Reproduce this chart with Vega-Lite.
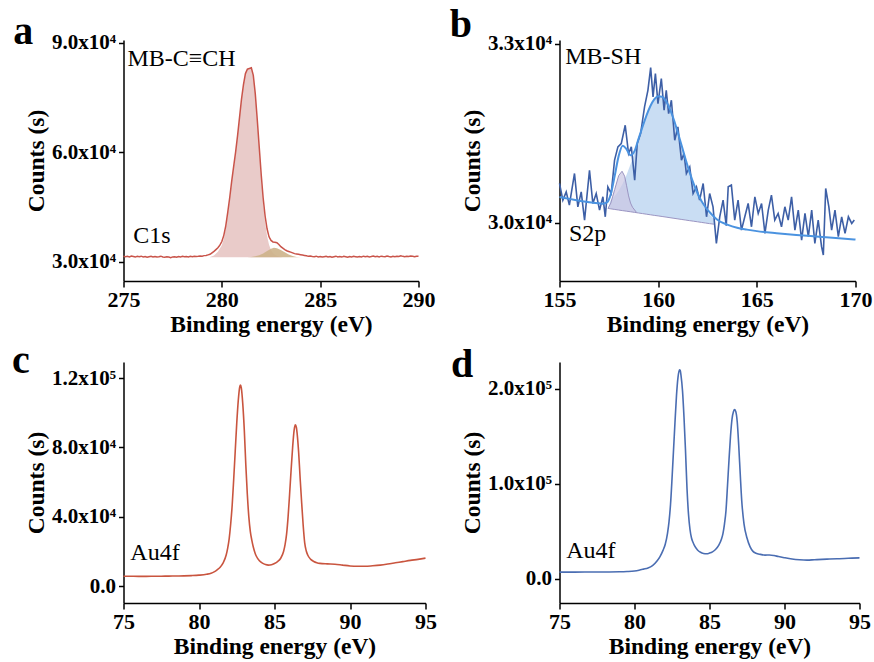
{
"$schema": "https://vega.github.io/schema/vega-lite/v6.json",
"background": "white",
"padding": {"left": 11.5, "top": 5, "right": 3, "bottom": 5},
"config": {
 "font": "Liberation Serif",
 "view": {"stroke": null},
 "axis": {"grid": false, "domainColor": "black", "domainWidth": 1.5, "tickColor": "black", "tickWidth": 1.5, "labelFont": "Liberation Serif", "labelFontWeight": "bold", "labelColor": "black", "titleFont": "Liberation Serif", "titleFontWeight": "bold", "titleColor": "black", "titleFontSize": 23.5},
 "axisX": {"labelFontSize": 22, "labelPadding": 2, "titlePadding": 2, "tickSize": 6, "labelFlush": false},
 "axisY": {"labelFontSize": 21, "labelPadding": 3, "titlePadding": 3, "tickSize": 5}
},
"datasets": {
 "a_line": [
  {"x":275.0,"y":31500},{"x":275.1,"y":31350},{"x":275.2,"y":31450},{"x":275.3,"y":31300},{"x":275.4,"y":31550},{"x":275.5,"y":31400},{"x":275.6,"y":31250},{"x":275.7,"y":31450},{"x":275.8,"y":31350},{"x":275.9,"y":31500},
  {"x":276.0,"y":31300},{"x":276.1,"y":31400},{"x":276.2,"y":31200},{"x":276.3,"y":31350},{"x":276.4,"y":31450},{"x":276.5,"y":31300},{"x":276.6,"y":31400},{"x":276.7,"y":31250},{"x":276.8,"y":31350},{"x":276.9,"y":31500},
  {"x":277.0,"y":31300},{"x":277.1,"y":31200},{"x":277.2,"y":31350},{"x":277.3,"y":31250},{"x":277.4,"y":31100},{"x":277.5,"y":31300},{"x":277.6,"y":31350},{"x":277.7,"y":31200},{"x":277.8,"y":31400},{"x":277.9,"y":31300},
  {"x":278.0,"y":31450},{"x":278.1,"y":31350},{"x":278.2,"y":31400},{"x":278.3,"y":31300},{"x":278.4,"y":31450},{"x":278.5,"y":31350},{"x":278.6,"y":31500},{"x":278.7,"y":31400},{"x":278.8,"y":31450},{"x":278.9,"y":31550},
  {"x":279.0,"y":31500},{"x":279.1,"y":31650},{"x":279.2,"y":31700},{"x":279.3,"y":31850},{"x":279.4,"y":32000},{"x":279.5,"y":32400},{"x":279.6,"y":32800},{"x":279.7,"y":33300},{"x":279.8,"y":33800},{"x":279.9,"y":34500},
  {"x":280.0,"y":35500},{"x":280.1,"y":37200},{"x":280.2,"y":39800},{"x":280.3,"y":43500},{"x":280.4,"y":47500},{"x":280.5,"y":52000},{"x":280.6,"y":56000},{"x":280.7,"y":60000},{"x":280.8,"y":64500},{"x":280.9,"y":69500},
  {"x":281.0,"y":74500},{"x":281.1,"y":78500},{"x":281.2,"y":81500},{"x":281.3,"y":82700},{"x":281.4,"y":82900},{"x":281.5,"y":83100},{"x":281.6,"y":81000},{"x":281.7,"y":76000},{"x":281.8,"y":69000},{"x":281.9,"y":61500},
  {"x":282.0,"y":54000},{"x":282.1,"y":47500},{"x":282.2,"y":42500},{"x":282.3,"y":39000},{"x":282.4,"y":36800},{"x":282.5,"y":35800},{"x":282.6,"y":35400},{"x":282.7,"y":35300},{"x":282.8,"y":35200},{"x":282.9,"y":34700},
  {"x":283.0,"y":34100},{"x":283.1,"y":33700},{"x":283.2,"y":33300},{"x":283.3,"y":33000},{"x":283.4,"y":32800},{"x":283.5,"y":32600},{"x":283.6,"y":32400},{"x":283.7,"y":32200},{"x":283.8,"y":32100},{"x":283.9,"y":32000},
  {"x":284.0,"y":31900},{"x":284.1,"y":31800},{"x":284.2,"y":31700},{"x":284.3,"y":31600},{"x":284.4,"y":31450},{"x":284.5,"y":31550},{"x":284.6,"y":31400},{"x":284.7,"y":31350},{"x":284.8,"y":31500},{"x":284.9,"y":31300},
  {"x":285.0,"y":31400},{"x":285.1,"y":31250},{"x":285.2,"y":31350},{"x":285.3,"y":31450},{"x":285.4,"y":31300},{"x":285.5,"y":31400},{"x":285.6,"y":31200},{"x":285.7,"y":31350},{"x":285.8,"y":31500},{"x":285.9,"y":31300},
  {"x":286.0,"y":31400},{"x":286.1,"y":31250},{"x":286.2,"y":31450},{"x":286.3,"y":31350},{"x":286.4,"y":31200},{"x":286.5,"y":31400},{"x":286.6,"y":31300},{"x":286.7,"y":31450},{"x":286.8,"y":31350},{"x":286.9,"y":31250},
  {"x":287.0,"y":31400},{"x":287.1,"y":31300},{"x":287.2,"y":31500},{"x":287.3,"y":31350},{"x":287.4,"y":31450},{"x":287.5,"y":31300},{"x":287.6,"y":31400},{"x":287.7,"y":31550},{"x":287.8,"y":31350},{"x":287.9,"y":31450},
  {"x":288.0,"y":31300},{"x":288.1,"y":31500},{"x":288.2,"y":31400},{"x":288.3,"y":31350},{"x":288.4,"y":31550},{"x":288.5,"y":31400},{"x":288.6,"y":31300},{"x":288.7,"y":31450},{"x":288.8,"y":31350},{"x":288.9,"y":31500},
  {"x":289.0,"y":31400},{"x":289.1,"y":31600},{"x":289.2,"y":31450},{"x":289.3,"y":31350},{"x":289.4,"y":31500},{"x":289.5,"y":31400},{"x":289.6,"y":31550},{"x":289.7,"y":31450},{"x":289.8,"y":31350},{"x":289.9,"y":31500},
  {"x":290.0,"y":31450}
 ],
 "a_c1": [
  {"x":279.4,"y":31250},{"x":279.6,"y":31700},{"x":279.8,"y":32700},{"x":280.0,"y":34500},{"x":280.1,"y":36200},{"x":280.2,"y":39000},{"x":280.3,"y":42800},{"x":280.4,"y":47000},{"x":280.5,"y":51500},{"x":280.6,"y":55600},
  {"x":280.7,"y":59600},{"x":280.8,"y":64200},{"x":280.9,"y":69200},{"x":281.0,"y":74200},{"x":281.1,"y":78200},{"x":281.2,"y":81200},{"x":281.3,"y":82500},{"x":281.4,"y":82700},{"x":281.5,"y":82800},{"x":281.6,"y":80700},
  {"x":281.7,"y":75700},{"x":281.8,"y":68500},{"x":281.9,"y":60800},{"x":282.0,"y":53000},{"x":282.1,"y":46200},{"x":282.2,"y":40800},{"x":282.3,"y":37000},{"x":282.4,"y":34600},{"x":282.5,"y":33200},{"x":282.6,"y":32400},
  {"x":282.7,"y":31900},{"x":282.8,"y":31600},{"x":282.9,"y":31400},{"x":283.0,"y":31250},{"x":283.1,"y":31200}
 ],
 "a_c2": [
  {"x":281.3,"y":31200},{"x":281.5,"y":31280},{"x":281.7,"y":31450},{"x":281.9,"y":31780},{"x":282.1,"y":32250},{"x":282.3,"y":32900},{"x":282.5,"y":33500},{"x":282.65,"y":33800},{"x":282.8,"y":33650},{"x":283.0,"y":33200},
  {"x":283.2,"y":32550},{"x":283.4,"y":31950},{"x":283.6,"y":31550},{"x":283.8,"y":31300},{"x":284.0,"y":31200}
 ],
 "b_raw": [
  {"x":155.0,"y":30658},{"x":155.17,"y":30379},{"x":155.34,"y":30518},{"x":155.5,"y":30295},{"x":155.76,"y":30825},{"x":155.93,"y":30267},{"x":156.1,"y":30518},{"x":156.27,"y":30045},{"x":156.52,"y":30880},{"x":156.69,"y":30323},
  {"x":156.86,"y":30490},{"x":157.03,"y":30212},{"x":157.2,"y":30435},{"x":157.32,"y":30100},{"x":157.45,"y":30602},{"x":157.62,"y":30490},{"x":157.79,"y":31048},{"x":157.96,"y":31270},{"x":158.13,"y":31326},{"x":158.33,"y":31633},
  {"x":158.5,"y":31159},{"x":158.64,"y":31270},{"x":158.81,"y":30713},{"x":158.94,"y":31326},{"x":159.11,"y":31494},{"x":159.31,"y":31939},{"x":159.48,"y":32218},{"x":159.62,"y":32597},{"x":159.74,"y":32107},{"x":159.86,"y":32497},
  {"x":159.99,"y":31995},{"x":160.16,"y":32413},{"x":160.3,"y":31884},{"x":160.41,"y":32218},{"x":160.53,"y":31828},{"x":160.67,"y":32051},{"x":160.84,"y":31382},{"x":161.0,"y":31605},{"x":161.18,"y":31048},{"x":161.31,"y":31159},
  {"x":161.43,"y":30825},{"x":161.6,"y":30936},{"x":161.77,"y":30490},{"x":161.94,"y":30602},{"x":162.1,"y":30379},{"x":162.28,"y":30658},{"x":162.45,"y":30100},{"x":162.61,"y":30490},{"x":162.78,"y":30267},{"x":162.95,"y":29654},
  {"x":163.12,"y":30100},{"x":163.29,"y":30379},{"x":163.45,"y":29950},{"x":163.55,"y":30602},{"x":163.71,"y":30630},{"x":163.88,"y":30045},{"x":164.05,"y":30379},{"x":164.22,"y":29877},{"x":164.39,"y":30100},{"x":164.56,"y":30323},
  {"x":164.73,"y":29933},{"x":164.9,"y":30435},{"x":165.07,"y":30156},{"x":165.24,"y":30323},{"x":165.41,"y":29822},{"x":165.58,"y":30212},{"x":165.74,"y":30463},{"x":165.91,"y":30045},{"x":166.08,"y":30156},{"x":166.25,"y":29933},
  {"x":166.42,"y":30267},{"x":166.59,"y":30045},{"x":166.76,"y":30435},{"x":166.93,"y":29877},{"x":167.1,"y":30212},{"x":167.27,"y":29710},{"x":167.44,"y":30156},{"x":167.61,"y":29766},{"x":167.78,"y":30212},{"x":167.94,"y":29654},
  {"x":168.11,"y":30045},{"x":168.28,"y":29599},{"x":168.37,"y":29459},{"x":168.49,"y":30574},{"x":168.65,"y":30267},{"x":168.79,"y":29877},{"x":168.96,"y":30212},{"x":169.13,"y":29766},{"x":169.3,"y":30100},{"x":169.47,"y":29822},
  {"x":169.64,"y":30100},{"x":169.81,"y":29989},{"x":169.94,"y":30045}
 ],
 "b_fit": [
  {"x":155.0,"y":30430},{"x":155.5,"y":30400},{"x":156.0,"y":30370},{"x":156.5,"y":30345},{"x":157.0,"y":30325},{"x":157.2,"y":30320},{"x":157.4,"y":30340},{"x":157.6,"y":30480},{"x":157.8,"y":30790},{"x":158.0,"y":31120},
  {"x":158.2,"y":31290},{"x":158.4,"y":31230},{"x":158.6,"y":31130},{"x":158.8,"y":31200},{"x":159.0,"y":31400},{"x":159.2,"y":31600},{"x":159.4,"y":31790},{"x":159.6,"y":31950},{"x":159.8,"y":32065},{"x":160.0,"y":32120},
  {"x":160.2,"y":32110},{"x":160.4,"y":32035},{"x":160.6,"y":31900},{"x":160.8,"y":31720},{"x":161.0,"y":31505},{"x":161.2,"y":31280},{"x":161.4,"y":31050},{"x":161.6,"y":30840},{"x":161.8,"y":30650},{"x":162.0,"y":30490},
  {"x":162.2,"y":30360},{"x":162.4,"y":30260},{"x":162.6,"y":30180},{"x":162.8,"y":30110},{"x":163.0,"y":30050},{"x":163.5,"y":29970},{"x":164.0,"y":29915},{"x":164.5,"y":29885},{"x":165.0,"y":29860},{"x":166.0,"y":29825},
  {"x":167.0,"y":29795},{"x":168.0,"y":29770},{"x":169.0,"y":29745},{"x":170.0,"y":29720}
 ],
 "b_s1": [
  {"x":157.46,"y":30240,"base":30240},{"x":157.6,"y":30330,"base":30233},{"x":157.8,"y":30560,"base":30223},{"x":158.0,"y":30790,"base":30213},{"x":158.17,"y":30863,"base":30205},{"x":158.3,"y":30780,"base":30199},
  {"x":158.4,"y":30620,"base":30194},{"x":158.5,"y":30450,"base":30189},{"x":158.6,"y":30330,"base":30184},{"x":158.7,"y":30260,"base":30179},{"x":158.9,"y":30175,"base":30169}
 ],
 "b_s2": [
  {"x":157.46,"y":30240,"base":30240},{"x":157.6,"y":30385,"base":30233},{"x":157.8,"y":30449,"base":30223},{"x":158.0,"y":30538,"base":30213},{"x":158.2,"y":30655,"base":30203},{"x":158.4,"y":30803,"base":30194},
  {"x":158.6,"y":30978,"base":30184},{"x":158.8,"y":31174,"base":30174},{"x":159.0,"y":31384,"base":30164},{"x":159.2,"y":31591,"base":30154},{"x":159.4,"y":31787,"base":30144},{"x":159.6,"y":31947,"base":30134},
  {"x":159.8,"y":32060,"base":30124},{"x":160.0,"y":32117,"base":30115},{"x":160.2,"y":32107,"base":30105},{"x":160.4,"y":32031,"base":30095},{"x":160.6,"y":31898,"base":30085},{"x":160.8,"y":31718,"base":30075},
  {"x":161.0,"y":31502,"base":30065},{"x":161.2,"y":31275,"base":30055},{"x":161.4,"y":31045,"base":30045},{"x":161.6,"y":30829,"base":30035},{"x":161.8,"y":30635,"base":30026},{"x":162.0,"y":30468,"base":30016},
  {"x":162.2,"y":30331,"base":30006},{"x":162.4,"y":30222,"base":29996},{"x":162.6,"y":30138,"base":29986},{"x":162.8,"y":30076,"base":29977},{"x":162.87,"y":29973,"base":29973}
 ],
 "c_line": [
  {"x":75.0,"y":5800},{"x":75.5,"y":5750},{"x":76.0,"y":5700},{"x":76.5,"y":5700},{"x":77.0,"y":5750},{"x":77.5,"y":5800},{"x":78.0,"y":5850},{"x":78.5,"y":5900},{"x":79.0,"y":6000},{"x":79.5,"y":6150},
  {"x":80.0,"y":6400},{"x":80.5,"y":6900},{"x":80.8,"y":7500},{"x":81.0,"y":8300},{"x":81.2,"y":9500},{"x":81.4,"y":11000},{"x":81.6,"y":13500},{"x":81.8,"y":18000},{"x":81.9,"y":22000},{"x":82.0,"y":27500},
  {"x":82.1,"y":36000},{"x":82.2,"y":47000},{"x":82.3,"y":62000},{"x":82.4,"y":78000},{"x":82.5,"y":94000},{"x":82.6,"y":107000},{"x":82.7,"y":115000},{"x":82.75,"y":116000},{"x":82.8,"y":114500},{"x":82.9,"y":105000},
  {"x":83.0,"y":90000},{"x":83.1,"y":70000},{"x":83.2,"y":53000},{"x":83.3,"y":40000},{"x":83.4,"y":31500},{"x":83.5,"y":26500},{"x":83.6,"y":22500},{"x":83.7,"y":19500},{"x":83.8,"y":17300},{"x":84.0,"y":14700},
  {"x":84.2,"y":13300},{"x":84.4,"y":12500},{"x":84.6,"y":12200},{"x":84.8,"y":12400},{"x":85.0,"y":13100},{"x":85.2,"y":14200},{"x":85.4,"y":16000},{"x":85.6,"y":20000},{"x":85.7,"y":24000},{"x":85.8,"y":30000},
  {"x":85.9,"y":40000},{"x":86.0,"y":53000},{"x":86.1,"y":67000},{"x":86.2,"y":80000},{"x":86.3,"y":90000},{"x":86.38,"y":93000},{"x":86.45,"y":91500},{"x":86.5,"y":88000},{"x":86.6,"y":77000},{"x":86.7,"y":62000},
  {"x":86.8,"y":48000},{"x":86.9,"y":35000},{"x":87.0,"y":25000},{"x":87.1,"y":20500},{"x":87.2,"y":18000},{"x":87.4,"y":15500},{"x":87.6,"y":14300},{"x":87.8,"y":13600},{"x":88.0,"y":13200},{"x":88.5,"y":12900},
  {"x":89.0,"y":12700},{"x":89.5,"y":12200},{"x":90.0,"y":11700},{"x":90.5,"y":11500},{"x":91.0,"y":11500},{"x":91.5,"y":11800},{"x":92.0,"y":12200},{"x":92.5,"y":12800},{"x":93.0,"y":13500},{"x":93.5,"y":14200},
  {"x":94.0,"y":14900},{"x":94.5,"y":15500},{"x":95.0,"y":16200}
 ],
 "d_line": [
  {"x":75.0,"y":7200},{"x":76.0,"y":7200},{"x":77.0,"y":7250},{"x":78.0,"y":7300},{"x":79.0,"y":7500},{"x":79.5,"y":7800},{"x":80.0,"y":8400},{"x":80.3,"y":9200},{"x":80.6,"y":10300},{"x":80.9,"y":11500},
  {"x":81.2,"y":14000},{"x":81.5,"y":18800},{"x":81.7,"y":23500},{"x":81.9,"y":30000},{"x":82.05,"y":36500},{"x":82.2,"y":48000},{"x":82.3,"y":60000},{"x":82.4,"y":78000},{"x":82.5,"y":105000},{"x":82.6,"y":135000},
  {"x":82.7,"y":165000},{"x":82.8,"y":193000},{"x":82.9,"y":212000},{"x":83.0,"y":220000},{"x":83.05,"y":219000},{"x":83.1,"y":214000},{"x":83.2,"y":198000},{"x":83.3,"y":170000},{"x":83.4,"y":135000},{"x":83.5,"y":95000},
  {"x":83.6,"y":68000},{"x":83.7,"y":52000},{"x":83.8,"y":43000},{"x":83.9,"y":38500},{"x":84.0,"y":35000},{"x":84.2,"y":30500},{"x":84.4,"y":28000},{"x":84.6,"y":26800},{"x":84.8,"y":26500},{"x":85.0,"y":27200},
  {"x":85.2,"y":28500},{"x":85.4,"y":31000},{"x":85.6,"y":35000},{"x":85.8,"y":42000},{"x":85.9,"y":48000},{"x":86.0,"y":58000},{"x":86.1,"y":72000},{"x":86.2,"y":98000},{"x":86.3,"y":125000},{"x":86.4,"y":150000},
  {"x":86.5,"y":168000},{"x":86.6,"y":176000},{"x":86.67,"y":178000},{"x":86.75,"y":176000},{"x":86.85,"y":165000},{"x":86.95,"y":140000},{"x":87.05,"y":110000},{"x":87.15,"y":82000},{"x":87.3,"y":58000},{"x":87.5,"y":43000},
  {"x":87.7,"y":34000},{"x":87.9,"y":29000},{"x":88.1,"y":27000},{"x":88.4,"y":25800},{"x":88.7,"y":25000},{"x":89.0,"y":25200},{"x":89.3,"y":24600},{"x":89.6,"y":23500},{"x":90.0,"y":22300},{"x":90.5,"y":21000},
  {"x":91.0,"y":20200},{"x":91.5,"y":19800},{"x":92.0,"y":20200},{"x":92.5,"y":20600},{"x":93.0,"y":20900},{"x":93.5,"y":21200},{"x":94.0,"y":21500},{"x":94.5,"y":21900},{"x":95.0,"y":22200}
 ]
},
"spacing": 5,
"vconcat": [
 {"spacing": 14, "hconcat": [
  {"width": 295, "height": 241,
   "layer": [
    {"data": {"name": "a_c1"}, "mark": {"type": "area", "color": "#e9cbc9"},
     "encoding": {
      "x": {"field": "x", "type": "quantitative", "scale": {"domain": [275, 290], "nice": false, "zero": false}, "axis": {"title": "Binding energy (eV)", "values": [275, 280, 285, 290]}},
      "y": {"field": "y", "type": "quantitative", "scale": {"domain": [24700, 90700], "nice": false, "zero": false}, "axis": {"title": "Counts (s)", "values": [30000, 60000, 90000], "labelExpr": "format(datum.value/10000, '.1f') + 'x10⁴'"}},
      "y2": {"datum": 31200}}},
    {"data": {"name": "a_c2"}, "mark": {"type": "area", "color": "#cdb28a", "opacity": 0.9}, "encoding": {"x": {"field": "x", "type": "quantitative"}, "y": {"field": "y", "type": "quantitative"}, "y2": {"datum": 31200}}},
    {"data": {"name": "a_line"}, "mark": {"type": "line", "color": "#c9544a", "strokeWidth": 1.5}, "encoding": {"x": {"field": "x", "type": "quantitative"}, "y": {"field": "y", "type": "quantitative"}}},
    {"data": {"values": [{"k": 1}]}, "mark": {"type": "text", "align": "left", "baseline": "alphabetic", "fontSize": 24, "font": "Liberation Serif", "color": "black"}, "encoding": {"x": {"datum": 275.2, "type": "quantitative"}, "y": {"datum": 83700, "type": "quantitative"}, "text": {"value": "MB-C≡CH"}}},
    {"data": {"values": [{"k": 1}]}, "mark": {"type": "text", "align": "left", "baseline": "alphabetic", "fontSize": 24, "font": "Liberation Serif", "color": "black"}, "encoding": {"x": {"datum": 275.5, "type": "quantitative"}, "y": {"datum": 35060, "type": "quantitative"}, "text": {"value": "C1s"}}},
    {"data": {"values": [{"k": 1}]}, "mark": {"type": "text", "align": "center", "baseline": "alphabetic", "fontSize": 40, "fontWeight": "bold", "font": "Liberation Serif", "color": "black"}, "encoding": {"x": {"datum": 269.9, "type": "quantitative"}, "y": {"datum": 89716, "type": "quantitative"}, "text": {"value": "a"}}}
   ]
  },
  {"width": 296, "height": 241,
   "layer": [
    {"data": {"name": "b_s2"}, "mark": {"type": "area", "color": "#c9ddf3"},
     "encoding": {
      "x": {"field": "x", "type": "quantitative", "scale": {"domain": [155, 170], "nice": false, "zero": false}, "axis": {"title": "Binding energy (eV)", "values": [155, 160, 165, 170]}},
      "y": {"field": "y", "type": "quantitative", "scale": {"domain": [29025, 33060], "nice": false, "zero": false}, "axis": {"title": "Counts (s)", "values": [30000, 33000], "labelExpr": "format(datum.value/10000, '.1f') + 'x10⁴'"}},
      "y2": {"field": "base"}}},
    {"data": {"name": "b_s1"}, "mark": {"type": "area", "color": "#cbc6e3", "line": {"color": "#9b95c2", "strokeWidth": 1}}, "encoding": {"x": {"field": "x", "type": "quantitative"}, "y": {"field": "y", "type": "quantitative"}, "y2": {"field": "base"}}},
    {"data": {"name": "b_s2"}, "mark": {"type": "line", "color": "#9b95c2", "strokeWidth": 1}, "encoding": {"x": {"field": "x", "type": "quantitative"}, "y": {"field": "base", "type": "quantitative"}}},
    {"data": {"name": "b_raw"}, "mark": {"type": "line", "color": "#3d5fa6", "strokeWidth": 1.6}, "encoding": {"x": {"field": "x", "type": "quantitative"}, "y": {"field": "y", "type": "quantitative"}}},
    {"data": {"name": "b_fit"}, "mark": {"type": "line", "color": "#4b93e0", "strokeWidth": 2, "interpolate": "monotone"}, "encoding": {"x": {"field": "x", "type": "quantitative"}, "y": {"field": "y", "type": "quantitative"}}},
    {"data": {"values": [{"k": 1}]}, "mark": {"type": "text", "align": "left", "baseline": "alphabetic", "fontSize": 24, "font": "Liberation Serif", "color": "black"}, "encoding": {"x": {"datum": 155.29, "type": "quantitative"}, "y": {"datum": 32665, "type": "quantitative"}, "text": {"value": "MB-SH"}}},
    {"data": {"values": [{"k": 1}]}, "mark": {"type": "text", "align": "left", "baseline": "alphabetic", "fontSize": 24, "font": "Liberation Serif", "color": "black"}, "encoding": {"x": {"datum": 155.48, "type": "quantitative"}, "y": {"datum": 29700, "type": "quantitative"}, "text": {"value": "S2p"}}},
    {"data": {"values": [{"k": 1}]}, "mark": {"type": "text", "align": "center", "baseline": "alphabetic", "fontSize": 40, "fontWeight": "bold", "font": "Liberation Serif", "color": "black"}, "encoding": {"x": {"datum": 150.0, "type": "quantitative"}, "y": {"datum": 33105, "type": "quantitative"}, "text": {"value": "b"}}}
   ]
  }
 ]},
 {"spacing": 14, "hconcat": [
  {"width": 302, "height": 241,
   "layer": [
    {"data": {"name": "c_line"}, "mark": {"type": "line", "color": "#c9553f", "strokeWidth": 1.6, "interpolate": "monotone"},
     "encoding": {
      "x": {"field": "x", "type": "quantitative", "scale": {"domain": [75, 95], "nice": false, "zero": false}, "axis": {"title": "Binding energy (eV)", "values": [75, 80, 85, 90, 95]}},
      "y": {"field": "y", "type": "quantitative", "scale": {"domain": [-9650, 129250], "nice": false, "zero": false}, "axis": {"title": "Counts (s)", "values": [0, 40000, 80000, 120000], "labelExpr": "datum.value == 0 ? '0.0' : datum.value < 100000 ? format(datum.value/10000, '.1f') + 'x10⁴' : format(datum.value/100000, '.1f') + 'x10⁵'"}}}},
    {"data": {"values": [{"k": 1}]}, "mark": {"type": "text", "align": "left", "baseline": "alphabetic", "fontSize": 24, "font": "Liberation Serif", "color": "black"}, "encoding": {"x": {"datum": 75.45, "type": "quantitative"}, "y": {"datum": 15030, "type": "quantitative"}, "text": {"value": "Au4f"}}},
    {"data": {"values": [{"k": 1}]}, "mark": {"type": "text", "align": "center", "baseline": "alphabetic", "fontSize": 40, "fontWeight": "bold", "font": "Liberation Serif", "color": "black"}, "encoding": {"x": {"datum": 68.2, "type": "quantitative"}, "y": {"datum": 122700, "type": "quantitative"}, "text": {"value": "c"}}}
   ]
  },
  {"width": 300, "height": 241,
   "layer": [
    {"data": {"name": "d_line"}, "mark": {"type": "line", "color": "#4a6db2", "strokeWidth": 1.6, "interpolate": "monotone"},
     "encoding": {
      "x": {"field": "x", "type": "quantitative", "scale": {"domain": [75, 95], "nice": false, "zero": false}, "axis": {"title": "Binding energy (eV)", "values": [75, 80, 85, 90, 95]}},
      "y": {"field": "y", "type": "quantitative", "scale": {"domain": [-25300, 228100], "nice": false, "zero": false}, "axis": {"title": "Counts (s)", "values": [0, 100000, 200000], "labelExpr": "datum.value == 0 ? '0.0' : format(datum.value/100000, '.1f') + 'x10⁵'"}}}},
    {"data": {"values": [{"k": 1}]}, "mark": {"type": "text", "align": "left", "baseline": "alphabetic", "fontSize": 24, "font": "Liberation Serif", "color": "black"}, "encoding": {"x": {"datum": 75.45, "type": "quantitative"}, "y": {"datum": 22180, "type": "quantitative"}, "text": {"value": "Au4f"}}},
    {"data": {"values": [{"k": 1}]}, "mark": {"type": "text", "align": "center", "baseline": "alphabetic", "fontSize": 40, "fontWeight": "bold", "font": "Liberation Serif", "color": "black"}, "encoding": {"x": {"datum": 68.5, "type": "quantitative"}, "y": {"datum": 211900, "type": "quantitative"}, "text": {"value": "d"}}}
   ]
  }
 ]}
]
}
